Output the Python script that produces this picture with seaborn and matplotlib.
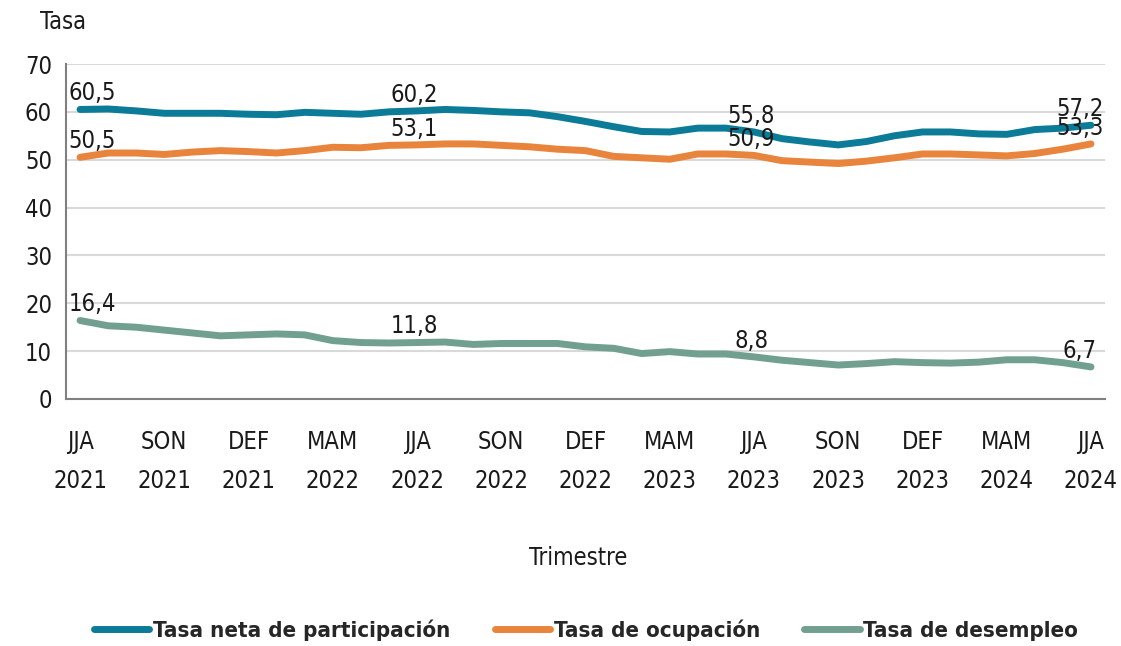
import numpy as np
import pandas as pd
import matplotlib
matplotlib.use("Agg")
import matplotlib.pyplot as plt
from matplotlib import font_manager
from matplotlib.lines import Line2D
import seaborn as sns

# Trimestres moviles JJA 2021 .. JJA 2024 (37 periodos)
tick_labels = ["JJA\n2021", "SON\n2021", "DEF\n2021", "MAM\n2022", "JJA\n2022",
               "SON\n2022", "DEF\n2022", "MAM\n2023", "JJA\n2023", "SON\n2023",
               "DEF\n2023", "MAM\n2024", "JJA\n2024"]

participacion = [60.5, 60.6, 60.2, 59.7, 59.7, 59.7, 59.5, 59.4, 59.9, 59.7,
                 59.5, 60.0, 60.2, 60.5, 60.3, 60.0, 59.8, 59.0, 58.0, 56.9,
                 55.9, 55.8, 56.6, 56.6, 55.8, 54.4, 53.7, 53.1, 53.8, 55.0,
                 55.8, 55.8, 55.4, 55.3, 56.3, 56.6, 57.2]
ocupacion = [50.5, 51.4, 51.4, 51.1, 51.6, 51.9, 51.7, 51.4, 51.9, 52.6,
             52.5, 53.0, 53.1, 53.3, 53.3, 53.0, 52.7, 52.2, 51.9, 50.7,
             50.4, 50.1, 51.2, 51.2, 50.9, 49.8, 49.5, 49.2, 49.7, 50.4,
             51.2, 51.2, 51.0, 50.8, 51.3, 52.2, 53.3]
desempleo = [16.4, 15.3, 15.0, 14.4, 13.8, 13.2, 13.4, 13.6, 13.4, 12.2,
             11.8, 11.7, 11.8, 11.9, 11.4, 11.6, 11.6, 11.6, 10.9, 10.6,
             9.5, 9.9, 9.4, 9.4, 8.8, 8.1, 7.6, 7.1, 7.4, 7.8,
             7.6, 7.5, 7.7, 8.2, 8.2, 7.6, 6.7]

series = ["Tasa neta de participación", "Tasa de ocupación", "Tasa de desempleo"]
colores = {"Tasa neta de participación": "#0B7B97",
           "Tasa de ocupación": "#E8843C",
           "Tasa de desempleo": "#72A090"}
etiquetas_idx = [0, 12, 24, 36]

df = pd.concat([
    pd.DataFrame({"idx": np.arange(len(vals)), "valor": vals, "serie": name})
    for name, vals in zip(series, [participacion, ocupacion, desempleo])
])

sns.set_theme(style="white")
plt.rcParams["font.family"] = ["DejaVu Sans"]

# condensed face if it is there, otherwise a smaller regular one
cond = font_manager.findfont(font_manager.FontProperties(family="DejaVu Sans", stretch="condensed"))
if "Condensed" in cond:
    plt.rcParams["font.stretch"] = "condensed"
    fs, fs_leg = 17, 16
else:
    fs, fs_leg = 15, 14

fig = plt.figure(figsize=(11.21, 6.46), dpi=100)
ax = fig.add_axes([66 / 1121, 1 - 399 / 646, (1105 - 66) / 1121, (399 - 64) / 646])

sns.lineplot(data=df, x="idx", y="valor", hue="serie", hue_order=series,
             palette=colores, linewidth=5, legend=False, ax=ax)
for ln in ax.get_lines():
    ln.set_solid_joinstyle("round")
    ln.set_solid_capstyle("round")

# data labels
for name, vals in zip(series, [participacion, ocupacion, desempleo]):
    for i in etiquetas_idx:
        dx = 9 if i == 0 else (-8 if i == len(vals) - 1 else -2)
        ax.annotate(f"{vals[i]:.1f}".replace(".", ","), (i, vals[i]),
                    xytext=(dx, 3), textcoords="offset points",
                    ha="center", va="bottom", fontsize=fs, color="#1a1a1a")

n = len(participacion)
ax.set_xlim(-0.5, n - 0.5)
ax.set_ylim(0, 70)
ax.set_yticks(range(0, 71, 10))
ax.set_xticks(range(0, n, 3))
ax.set_xticklabels(tick_labels, linespacing=1.8)
ax.set_xticks(np.arange(-0.5, n, 1), minor=True)

ax.grid(axis="y", color="#d9d9d9", linewidth=1.5)
ax.set_axisbelow(True)
for s in ["top", "right"]:
    ax.spines[s].set_visible(False)
for s in ["left", "bottom"]:
    ax.spines[s].set_color("#808080")
    ax.spines[s].set_linewidth(1.5)

ax.tick_params(axis="x", which="major", length=0, pad=22, labelsize=fs, labelcolor="#1a1a1a")
ax.tick_params(axis="x", which="minor", direction="inout", length=14, width=1.5, color="#808080")
ax.tick_params(axis="y", direction="inout", length=14, width=1.5, color="#808080",
               pad=3, labelsize=fs, labelcolor="#1a1a1a")

ax.set_xlabel("")
ax.set_ylabel("")
fig.text(40 / 1121, 1 - 22 / 646, "Tasa", fontsize=fs, va="center", ha="left", color="#1a1a1a")
fig.text(578 / 1121, 1 - 558 / 646, "Trimestre", fontsize=fs, va="center", ha="center", color="#1a1a1a")

handles = [Line2D([0], [0], color=colores[s], linewidth=5, solid_capstyle="round") for s in series]
fig.legend(handles, series, loc="center", bbox_to_anchor=(586 / 1121, 1 - 630 / 646), ncol=3,
           frameon=False, handlelength=2.5, handletextpad=0.15, columnspacing=2.0,
           prop={"weight": "bold", "size": fs_leg})

fig.savefig("out.png", dpi=100)
